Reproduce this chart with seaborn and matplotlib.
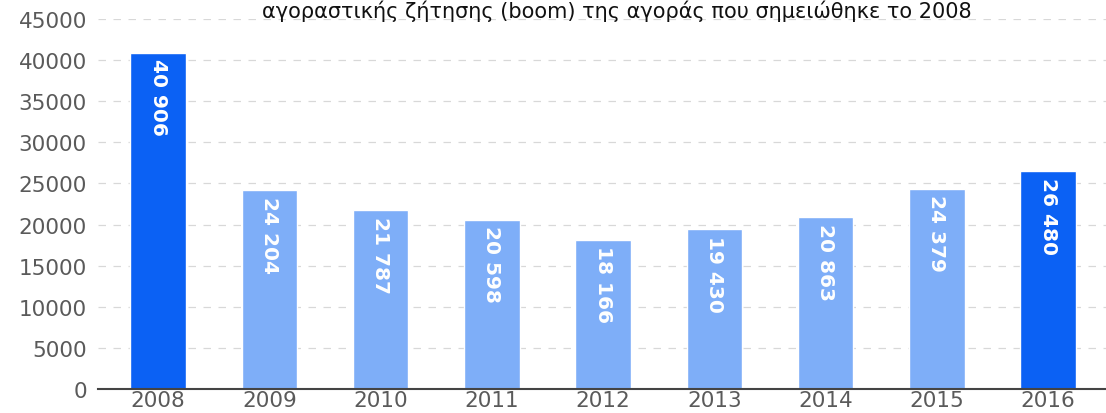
import numpy as np
import pandas as pd
import matplotlib
matplotlib.use("Agg")
import matplotlib.pyplot as plt
import seaborn as sns

years = ["2008", "2009", "2010", "2011", "2012", "2013", "2014", "2015", "2016"]
values = [40906, 24204, 21787, 20598, 18166, 19430, 20863, 24379, 26480]
labels = ["40 906", "24 204", "21 787", "20 598", "18 166", "19 430", "20 863", "24 379", "26 480"]
group = ["hi", "lo", "lo", "lo", "lo", "lo", "lo", "lo", "hi"]
title = "αγοραστικής ζήτησης (boom) της αγοράς που σημειώθηκε το 2008"

df = pd.DataFrame({"year": years, "value": values, "group": group})

sns.set_style("white")
plt.rcParams['font.family'] = ['DejaVu Sans']

fig = plt.figure(figsize=(11.06, 4.14), dpi=100)
ax = fig.add_axes([0.0886, 0.058, 0.9114, 0.8937])

sns.barplot(data=df, x="year", y="value", hue="group",
            palette={"hi": "#0b61f4", "lo": "#7eaef8"},
            dodge=False, width=0.5, legend=False, ax=ax, saturation=1)

ax.set_ylim(0, 45000)
ax.set_xlim(-0.54, 8.52)
ax.set_yticks(np.arange(0, 45001, 5000))
ax.yaxis.grid(True, linestyle=(0, (6, 6)), color="#d8d8d8", linewidth=0.9)
ax.set_axisbelow(True)
for s in ["top", "right", "left"]:
    ax.spines[s].set_visible(False)
ax.spines["bottom"].set_color("#444444")
ax.spines["bottom"].set_linewidth(1.5)
ax.tick_params(axis="both", length=0, labelsize=15.5, labelcolor="#5a5a5a")
ax.tick_params(axis="y", pad=8)
ax.tick_params(axis="x", pad=1)
ax.set_xlabel("")
ax.set_ylabel("")

for i, (v, lab) in enumerate(zip(values, labels)):
    ax.text(i, v - 700, lab, rotation=270, ha="center", va="top",
            color="white", fontsize=14.5, fontweight="bold",
            family=["Liberation Sans Narrow", "DejaVu Sans"])

fig.text(0.558, 0.999, title, ha="center", va="top", fontsize=15, color="#111111")

fig.savefig("out.png", dpi=100)
